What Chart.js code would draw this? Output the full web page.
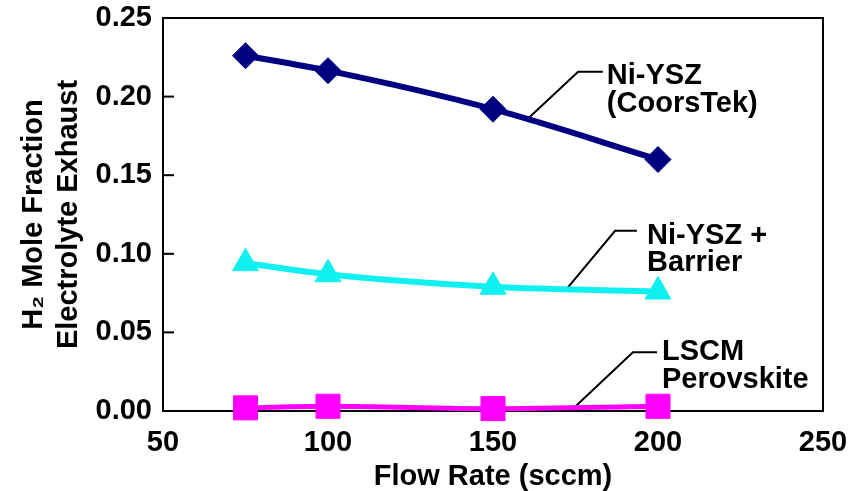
<!DOCTYPE html>
<html>
<head>
<meta charset="utf-8">
<script src="https://cdn.jsdelivr.net/npm/chart.js@4.4.1/dist/chart.umd.min.js"></script>
<style>
  html, body { margin: 0; padding: 0; background: #fff; }
  #wrap { width: 864px; height: 491px; }
</style>
</head>
<body>
<div id="wrap"><canvas id="flowChart" width="864" height="491"></canvas></div>
<script>
// flow rates (sccm)
const flowRates = [75, 100, 150, 200];
// H2 mole fraction in electrolyte exhaust
const niYsz = [0.226, 0.2165, 0.192, 0.160];
const niYszBarrier = [0.094, 0.087, 0.079, 0.076];
const lscm = [0.002, 0.003, 0.0015, 0.003];

const xTicks = [50, 100, 150, 200, 250];
const yTicks = [0, 0.05, 0.10, 0.15, 0.20, 0.25];

function pts(ys) {
  return flowRates.map((x, i) => ({x: x, y: ys[i]}));
}

const fontFam = '"Liberation Sans", Arial, sans-serif';

// callout labels: text lines + leader line, in data units
const callouts = [
  {lines: ['Ni-YSZ', '(CoorsTek)'], tx: 184.5, ty: [0.2082, 0.1905],
   leader: [[183.3, 0.2158], [175.8, 0.2158], [160.3, 0.1854]]},
  {lines: ['Ni-YSZ +', 'Barrier'], tx: 196.7, ty: [0.1063, 0.0892],
   leader: [[193.6, 0.1146], [187.0, 0.1146], [172.4, 0.0778]]},
  {lines: ['LSCM', 'Perovskite'], tx: 201.2, ty: [0.0323, 0.0146],
   leader: [[199.7, 0.0373], [192.4, 0.0373], [174.8, 0.0025]]}
];

const frame = {
  id: 'frame',
  beforeDatasetsDraw(chart) {
    const {ctx, chartArea: a, scales} = chart;
    ctx.save();
    ctx.strokeStyle = '#000';
    ctx.lineWidth = 2;
    ctx.strokeRect(a.left, a.top, a.right - a.left, a.bottom - a.top);
    // inward ticks on y axis
    yTicks.forEach(v => {
      const y = scales.y.getPixelForValue(v);
      ctx.beginPath();
      ctx.moveTo(a.left, y);
      ctx.lineTo(a.left + 11, y);
      ctx.stroke();
    });
    // leader lines
    callouts.forEach(c => {
      ctx.beginPath();
      c.leader.forEach((p, i) => {
        const px = scales.x.getPixelForValue(p[0]);
        const py = scales.y.getPixelForValue(p[1]);
        if (i === 0) ctx.moveTo(px, py); else ctx.lineTo(px, py);
      });
      ctx.stroke();
    });
    ctx.restore();
  },
  afterDraw(chart) {
    const {ctx, scales} = chart;
    ctx.save();
    ctx.fillStyle = '#000';
    ctx.font = 'bold 29px ' + fontFam;
    ctx.textAlign = 'left';
    ctx.textBaseline = 'alphabetic';
    callouts.forEach(c => {
      c.lines.forEach((t, i) => {
        ctx.fillText(t, scales.x.getPixelForValue(c.tx), scales.y.getPixelForValue(c.ty[i]));
      });
    });
    ctx.restore();
  }
};

function series(label, ys, color, style, radius, lw) {
  return {
    label: label,
    data: pts(ys),
    borderColor: color,
    backgroundColor: color,
    pointBackgroundColor: color,
    pointBorderColor: color,
    pointBorderWidth: 1,
    pointStyle: style,
    pointRadius: radius,
    pointHoverRadius: radius,
    borderWidth: lw,
    cubicInterpolationMode: 'monotone',
    clip: false
  };
}

new Chart(document.getElementById('flowChart'), {
  type: 'line',
  data: {
    datasets: [
      series('Ni-YSZ (CoorsTek)', niYsz, '#000080', 'rectRot', 13, 6),
      series('Ni-YSZ + Barrier', niYszBarrier, '#11f0f0', 'triangle', 15, 6),
      series('LSCM Perovskite', lscm, '#ff00ff', 'rect', 17, 5)
    ]
  },
  options: {
    responsive: false,
    animation: false,
    events: [],
    layout: {padding: {top: 16, right: 41, left: 0, bottom: 0}},
    plugins: {legend: {display: false}, tooltip: {enabled: false}},
    scales: {
      x: {
        type: 'linear',
        min: 50,
        max: 250,
        afterBuildTicks: s => { s.ticks = xTicks.map(v => ({value: v})); },
        afterFit: s => { s.height = 80; s.paddingLeft = 0; s.paddingRight = 0; },
        grid: {display: false, drawTicks: false},
        border: {display: false},
        ticks: {
          color: '#000',
          padding: 16,
          maxRotation: 0,
          font: {family: fontFam, size: 29, weight: 'bold', lineHeight: 1.1}
        },
        title: {
          display: true,
          text: 'Flow Rate (sccm)',
          color: '#000',
          padding: {top: 0, bottom: 0},
          font: {family: fontFam, size: 29, weight: 'bold', lineHeight: 1}
        }
      },
      y: {
        type: 'linear',
        min: 0,
        max: 0.25,
        afterBuildTicks: s => { s.ticks = yTicks.map(v => ({value: v})); },
        afterFit: s => { s.width = 163; s.paddingTop = 0; s.paddingBottom = 0; },
        grid: {display: false, drawTicks: false},
        border: {display: false},
        ticks: {
          color: '#000',
          padding: 11,
          callback: v => v.toFixed(2),
          font: {family: fontFam, size: 29, weight: 'bold', lineHeight: 1}
        },
        title: {
          display: true,
          text: ['H\u2082 Mole Fraction', 'Electrolyte Exhaust'],
          color: '#000',
          padding: {top: 17, bottom: 0},
          font: {family: fontFam, size: 29, weight: 'bold', lineHeight: 1.2}
        }
      }
    }
  },
  plugins: [frame]
});
</script>
</body>
</html>
